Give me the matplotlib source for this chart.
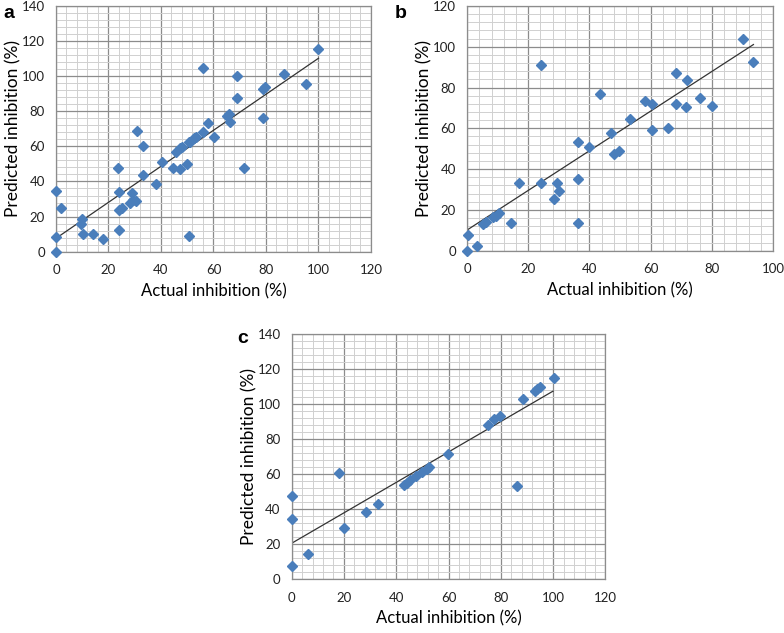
import matplotlib
matplotlib.use('Agg')
import matplotlib.pyplot as plt
import numpy as np
from matplotlib.ticker import MultipleLocator

plt.rcParams['font.family'] = ['Lato', 'DejaVu Sans']

# panel a
actual_a = [0, 0, 0, 1.8, 10.0, 9.4, 10.4, 14.2, 18.0, 23.7, 24.1, 24.1, 24.1, 25.0,
            28.1, 29.1, 29.4, 30.3, 30.9, 33.2, 33.2, 38.0, 40.2, 44.4, 45.9, 47.1,
            47.9, 47.4, 49.9, 50.7, 50.5, 51.0, 52.5, 53.4, 56.0, 56.0, 57.9, 60.1,
            65.0, 65.9, 66.2, 68.8, 68.8, 71.6, 78.8, 78.8, 79.6, 86.8, 95.1, 99.7]
pred_a = [0, 8.2, 34.8, 24.7, 18.6, 15.8, 9.9, 9.9, 7.2, 47.5, 34.2, 12.4, 23.7, 24.7,
          27.6, 33.6, 29.5, 29.0, 68.8, 60.2, 43.7, 38.4, 51.3, 47.5, 57.0, 58.9,
          59.8, 46.9, 50.0, 8.9, 62.3, 62.7, 64.6, 65.5, 68.2, 104.7, 73.3, 65.2,
          77.5, 78.6, 73.9, 100.3, 87.8, 47.7, 76.0, 92.9, 93.7, 101.3, 95.4, 115.3]
trend_a = (7.6, 1.026)   # intercept, slope
range_a = (0, 100)

# panel b
actual_b = [0.1, 0.3, 3.2, 5.3, 6.2, 8.6, 9.5, 10.4, 14.4, 17.1, 24.2, 24.2, 28.5,
            29.3, 30.2, 36.3, 36.3, 36.3, 40.0, 43.3, 47.2, 48.1, 49.8, 53.2, 58.2,
            60.4, 60.4, 65.6, 68.2, 68.4, 71.7, 71.8, 76.0, 80.2, 90.3, 93.6]
pred_b = [0, 7.5, 2.4, 13.0, 14.0, 16.3, 16.9, 18.5, 13.7, 33.2, 91.1, 33.2, 25.4,
          33.2, 29.1, 53.3, 35.0, 13.7, 50.6, 76.9, 57.9, 47.2, 49.1, 64.4, 73.2,
          71.9, 59.2, 60.2, 87.2, 71.9, 70.6, 83.9, 75.1, 70.9, 103.7, 92.7]
trend_b = (10.1, 0.972)
range_b = (0, 93.6)

# panel c
actual_c = [0, 0, 0, 6.1, 18.1, 20.0, 28.5, 33.1, 43.1, 44.1, 45.1, 47.5, 49.9,
            51.6, 52.5, 59.6, 75.0, 77.5, 79.7, 86.0, 88.6, 92.9, 93.9, 95.0, 100.2]
pred_c = [7.8, 34.5, 47.6, 14.5, 60.7, 29.1, 38.5, 43.2, 53.7, 55.2, 56.7, 59.2, 61.3,
          63.2, 64.0, 71.5, 88.0, 91.4, 93.3, 53.3, 102.9, 107.4, 108.6, 109.7, 115.0]
trend_c = (20.6, 0.87)
range_c = (0, 100)

panels = [
    ('a', actual_a, pred_a, trend_a, range_a, 120, 140, [0.0714, 0.6024, 0.4018, 0.3882], (0.004, 0.979)),
    ('b', actual_b, pred_b, trend_b, range_b, 100, 120, [0.5957, 0.6040, 0.3903, 0.3866], (0.503, 0.979)),
    ('c', actual_c, pred_c, trend_c, range_c, 120, 140, [0.3720, 0.0848, 0.4003, 0.3870], (0.303, 0.466)),
]

fig = plt.figure(figsize=(7.84, 6.33), dpi=100)

for letter, xs, ys, trend, xr, xmax, ymax, rect, lpos in panels:
    ax = fig.add_axes(rect)
    ax.set_xlim(0, xmax)
    ax.set_ylim(0, ymax)
    ax.xaxis.set_major_locator(MultipleLocator(20))
    ax.yaxis.set_major_locator(MultipleLocator(20))
    ax.xaxis.set_minor_locator(MultipleLocator(4))
    ax.yaxis.set_minor_locator(MultipleLocator(4))
    ax.grid(which='major', color='#8c8c8c', lw=0.9)
    ax.grid(which='minor', color='#d0d0d0', lw=0.7)
    ax.set_axisbelow(True)
    for s in ax.spines.values():
        s.set_color('#8c8c8c')
        s.set_linewidth(0.9)
    ax.tick_params(which='both', length=0)
    ax.tick_params(axis='y', pad=8, labelsize=9.5, colors='#222222')
    ax.tick_params(axis='x', pad=9, labelsize=9.5, colors='#222222')

    tx = np.array(xr)
    ax.plot(tx, trend[0] + trend[1] * tx, color='#333333', lw=0.9, zorder=2)
    ax.plot(xs, ys, 'D', color='#4a7ebb', ms=5.6, mec='#4a7ebb', zorder=3, clip_on=False)

    ax.set_xlabel('Actual inhibition (%)', fontsize=12, labelpad=5)
    ax.set_ylabel('Predicted inhibition (%)', fontsize=12.5, labelpad=0)
    fig.text(lpos[0], lpos[1], letter, fontsize=14, fontweight='bold',
             family='Liberation Sans', va='center', ha='left')

fig.savefig('out.png', dpi=100)
